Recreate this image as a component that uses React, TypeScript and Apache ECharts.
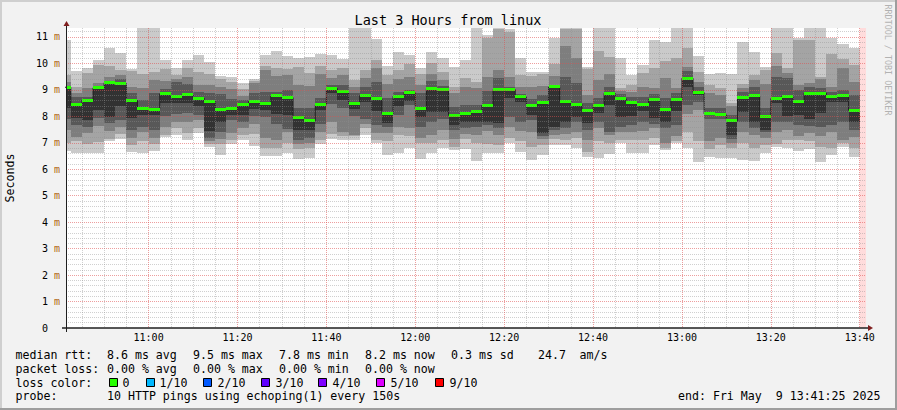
import React, { useEffect, useRef } from 'react';
import * as echarts from 'echarts';

const W = 897;
const H = 410;
const MONO = '"DejaVu Sans Mono", monospace';

// time axis in minutes of the day
const START_MIN = 10 * 60 + 41 + 25 / 60; // 10:41:25
const END_MIN = START_MIN + 180; // 13:41:25
const STEP_MIN = 2.5; // 150 s step
const FIRST_STEP_END = 10 * 60 + 42.5; // 10:42:30
const Y_MAX = 11.34;

// sorted ping rtt values per step (ms); medianRtt is ping 6 of 10
const ping1 = [6.7, 6.6, 6.6, 6.6, 7.08, 7.15, 6.67, 6.6, 6.69, 7.23, 7.3, 7.11, 7.37, 6.86, 6.55, 6.96, 7.11, 6.88, 6.52, 6.52, 6.63, 6.39, 6.44, 6.94, 7.15, 7.11, 7.11, 7.3, 6.98, 6.54, 6.6, 6.82, 6.39, 6.6, 6.79, 6.72, 6.77, 6.31, 6.6, 6.6, 6.98, 6.67, 6.35, 6.54, 6.92, 6.92, 6.82, 6.48, 6.44, 6.57, 6.98, 6.6, 6.6, 6.92, 6.73, 6.98, 6.82, 6.26, 6.48, 6.42, 6.44, 6.35, 6.31, 6.6, 6.86, 6.79, 6.69, 6.77, 6.29, 6.54, 6.86, 6.48];
const ping2 = [7.0, 7.05, 6.95, 7.04, 7.15, 7.35, 6.9, 7.05, 6.95, 7.3, 7.55, 7.36, 7.55, 6.95, 6.95, 7.1, 7.3, 7.35, 6.8, 6.8, 6.98, 6.75, 6.8, 7.1, 7.35, 7.25, 7.25, 7.55, 7.1, 7.05, 7.3, 7.26, 6.98, 6.98, 7.1, 6.85, 7.15, 6.98, 6.95, 6.9, 7.2, 7.05, 6.86, 6.9, 7.15, 7.1, 7.17, 6.67, 7.05, 7.0, 7.11, 7.11, 7.1, 7.17, 6.8, 7.05, 7.42, 7.05, 6.77, 6.9, 6.8, 6.98, 6.8, 6.92, 6.94, 7.11, 7.1, 7.05, 6.86, 6.79, 7.0, 6.8];
const ping3 = [7.5, 7.23, 7.37, 7.65, 7.45, 7.6, 7.2, 7.4, 7.2, 7.61, 7.8, 7.8, 7.86, 7.05, 7.15, 7.37, 7.55, 7.7, 7.17, 7.11, 7.4, 6.95, 7.0, 7.4, 7.8, 7.42, 7.3, 7.7, 7.36, 7.36, 7.61, 7.55, 7.2, 7.3, 7.49, 7.15, 7.35, 7.3, 7.45, 7.3, 7.61, 7.45, 7.42, 7.15, 7.3, 7.35, 7.42, 7.11, 7.55, 7.3, 7.42, 7.42, 7.45, 7.55, 7.0, 7.25, 8.1, 8.24, 7.05, 7.2, 7.0, 7.42, 7.3, 7.2, 7.42, 7.49, 7.25, 7.36, 7.25, 7.42, 7.11, 7.23];
const ping4 = [7.9, 7.67, 7.6, 7.95, 7.75, 7.85, 7.5, 7.6, 7.5, 8.0, 8.1, 8.12, 8.05, 7.2, 7.4, 7.85, 7.8, 8.0, 7.99, 7.7, 7.52, 7.11, 7.2, 7.73, 8.47, 8.3, 8.0, 7.89, 7.67, 7.6, 8.05, 8.43, 7.6, 7.8, 7.9, 7.5, 7.55, 7.6, 7.67, 7.55, 7.99, 7.8, 7.85, 7.25, 7.5, 7.55, 7.8, 7.48, 7.8, 7.42, 7.61, 7.67, 7.8, 7.7, 7.55, 7.67, 8.43, 8.56, 7.9, 7.9, 7.15, 7.8, 7.55, 7.42, 7.8, 7.8, 7.67, 7.65, 7.61, 7.67, 7.8, 7.5];
const ping5 = [8.3, 7.95, 7.86, 8.24, 7.99, 8.4, 7.95, 8.05, 8.05, 8.5, 8.5, 8.5, 8.41, 7.45, 7.8, 8.05, 8.05, 8.28, 8.24, 8.08, 8.05, 7.49, 7.49, 8.25, 8.87, 8.62, 8.27, 8.55, 8.2, 7.74, 8.41, 8.58, 7.99, 8.15, 8.18, 7.67, 7.78, 7.8, 7.8, 7.74, 8.68, 8.53, 8.05, 7.36, 7.61, 7.8, 7.99, 7.74, 8.12, 8.43, 7.99, 8.03, 8.2, 7.92, 7.8, 8.2, 9.12, 8.81, 8.04, 8.0, 7.3, 8.18, 7.8, 7.49, 8.49, 8.03, 8.05, 7.9, 8.14, 8.53, 8.53, 7.8];
const medianRtt = [9.1, 8.46, 8.61, 9.08, 9.27, 9.24, 8.6, 8.29, 8.27, 8.85, 8.76, 8.82, 8.69, 8.56, 8.27, 8.29, 8.46, 8.56, 8.5, 8.77, 8.71, 7.95, 7.83, 8.43, 9.05, 8.95, 8.49, 8.78, 8.66, 8.1, 8.76, 8.91, 8.28, 9.04, 9.02, 8.04, 8.09, 8.2, 8.42, 9.01, 9.01, 8.75, 8.42, 8.54, 9.11, 8.58, 8.46, 8.24, 8.41, 8.87, 8.66, 8.53, 8.43, 8.64, 8.27, 8.62, 9.44, 8.91, 8.09, 8.08, 7.83, 8.72, 8.78, 7.98, 8.67, 8.76, 8.57, 8.88, 8.88, 8.76, 8.77, 8.23];
const ping7 = [9.15, 8.75, 8.75, 9.12, 9.35, 9.4, 8.87, 8.62, 8.88, 9.05, 9.3, 9.21, 8.93, 8.87, 8.85, 8.66, 8.6, 8.9, 8.93, 8.93, 9.0, 8.3, 8.3, 8.7, 9.2, 9.2, 8.87, 9.12, 9.31, 8.71, 8.93, 9.0, 8.87, 9.34, 9.15, 8.35, 8.43, 8.43, 8.96, 9.44, 9.1, 8.85, 8.65, 8.8, 9.2, 9.5, 9.25, 8.5, 8.68, 9.1, 8.85, 8.75, 8.75, 8.85, 8.7, 8.87, 9.72, 9.12, 8.3, 8.3, 8.05, 8.93, 9.12, 8.3, 9.5, 9.44, 9.0, 9.12, 9.06, 8.93, 9.0, 8.8];
const ping8 = [9.3, 8.87, 9.06, 9.25, 9.5, 9.55, 9.1, 9.07, 9.38, 9.34, 9.4, 9.5, 9.19, 9.2, 9.1, 9.05, 8.77, 9.25, 9.75, 9.53, 9.56, 9.19, 9.16, 9.59, 9.44, 9.56, 9.12, 9.44, 9.82, 9.21, 9.4, 9.5, 9.19, 9.59, 9.38, 8.87, 9.1, 9.06, 9.5, 9.75, 9.5, 9.12, 9.1, 9.15, 9.53, 10.66, 10.22, 8.8, 9.38, 9.59, 8.95, 8.93, 9.12, 9.09, 9.44, 9.06, 9.88, 9.31, 8.87, 8.8, 8.4, 9.06, 9.38, 9.21, 9.9, 9.63, 9.19, 9.25, 9.4, 9.12, 9.82, 9.3];
const ping9 = [9.55, 9.11, 9.65, 9.94, 9.9, 9.75, 9.7, 9.6, 9.69, 9.79, 9.56, 9.84, 9.69, 9.59, 9.4, 9.31, 9.05, 9.35, 9.92, 9.84, 9.8, 9.85, 9.65, 9.9, 9.75, 9.82, 9.38, 9.75, 10.13, 9.56, 9.75, 9.97, 9.59, 10.0, 9.69, 9.12, 9.44, 9.3, 10.95, 11.3, 11.2, 9.56, 9.53, 9.59, 9.97, 11.3, 11.3, 9.78, 10.47, 10.26, 9.06, 9.19, 9.65, 9.82, 10.1, 10.19, 10.57, 9.69, 9.19, 9.06, 8.5, 9.21, 9.56, 9.75, 10.38, 9.84, 10.9, 10.89, 9.5, 10.35, 10.17, 9.94];
const ping10 = [10.9, 9.73, 9.82, 10.13, 10.6, 10.38, 9.79, 11.4, 11.4, 10.13, 9.82, 10.13, 10.32, 10.05, 9.53, 9.5, 9.25, 9.41, 10.32, 10.47, 10.28, 10.19, 10.26, 10.36, 10.32, 10.16, 11.4, 11.4, 10.92, 9.9, 10.42, 10.32, 9.84, 10.42, 10.19, 9.88, 10.13, 11.4, 11.08, 11.4, 11.3, 10.19, 9.69, 9.69, 10.97, 11.4, 11.4, 9.88, 11.4, 11.4, 10.22, 9.56, 9.94, 10.89, 10.82, 11.4, 11.4, 10.28, 9.59, 9.65, 9.59, 10.8, 10.45, 9.88, 11.4, 11.4, 10.97, 11.4, 11.4, 10.97, 10.72, 10.6];

// legend contents
const rttStats = ['8.6 ms avg', '9.5 ms max', '7.8 ms min', '8.2 ms now', '0.3 ms sd', '24.7'];
const lossStats = ['0.00 % avg', '0.00 % max', '0.00 % min', '0.00 % now'];
const lossLabels = ['0', '1/10', '2/10', '3/10', '4/10', '5/10', '9/10'];
const lossColors = ['#26ff00', '#00b8ff', '#0059ff', '#5e00ff', '#7e00ff', '#dd00ff', '#ff0000'];

const smokeColors = ['#cacaca', '#a4a4a4', '#7e7e7e', '#585858', '#323232'];

const stepEnds = medianRtt.map((_, i) => FIRST_STEP_END + i * STEP_MIN);
const smokeData = stepEnds.map((t, i) => [t, ping1[i], ping2[i], ping3[i], ping4[i], ping5[i], medianRtt[i], ping7[i], ping8[i], ping9[i], ping10[i]]);
const medianData = stepEnds.map((t, i) => [t, medianRtt[i]]);
const medianStepLine = stepEnds.map((t, i) => [t - STEP_MIN, medianRtt[i]]).concat([[stepEnds[stepEnds.length - 1], medianRtt[medianRtt.length - 1]]]);

function clip(r: any, cs: any) {
  return echarts.graphic.clipRectByRect(r, { x: cs.x, y: cs.y, width: cs.width, height: cs.height });
}

function renderSmoke(params: any, api: any) {
  const tEnd = api.value(0);
  const tStart = tEnd - STEP_MIN;
  const cs = params.coordSys;
  const children: any[] = [];
  for (let b = 0; b < 5; b++) {
    const lo = api.value(1 + b);
    const hi = api.value(10 - b);
    const a = api.coord([tStart, hi]);
    const c = api.coord([tEnd, lo]);
    const x0 = Math.round(a[0]);
    const x1 = Math.round(c[0]);
    const y0 = Math.round(a[1]);
    const y1 = Math.round(c[1]);
    const r = clip({ x: x0, y: y0, width: x1 - x0, height: y1 - y0 }, cs);
    if (r) children.push({ type: 'rect', shape: r, style: { fill: smokeColors[b] } });
  }
  return { type: 'group', children };
}

function renderMedian(params: any, api: any) {
  const tEnd = api.value(0);
  const med = api.value(1);
  const a = api.coord([tEnd - STEP_MIN, med]);
  const c = api.coord([tEnd, med]);
  const x0 = Math.round(a[0]);
  const x1 = Math.round(c[0]);
  const r = clip({ x: x0, y: Math.round(a[1] - 1.5), width: x1 - x0, height: 3 }, params.coordSys);
  if (!r) return null;
  return { type: 'rect', shape: r, style: { fill: lossColors[0] } };
}

function fmtTime(v: number) {
  const r = Math.round(v);
  if (Math.abs(v - r) > 1e-6 || r % 20 !== 0) return '';
  const h = Math.floor(r / 60);
  const m = r % 60;
  return `${h}:${String(m).padStart(2, '0')}`;
}

function fmtY(v: number) {
  if (Math.abs(v - Math.round(v)) > 1e-6) return '';
  const n = Math.round(v);
  if (n === 0) return '{n|0 }{z|m}';
  return `{n|${n} }{u|m}`;
}

const LEG = `11.6px ${MONO}`;
function txt(text: string, x: number, y: number, extra: any = {}) {
  return { type: 'text', x, y, silent: true, style: { text, font: LEG, fill: '#000', textAlign: 'left', textVerticalAlign: 'middle', ...extra } };
}

const rttX = [107, 193, 279, 365, 451, 538];
const lossX = [107, 193, 279, 365];
const boxX = [109, 146, 203, 261, 318, 376, 435];
const boxLabelX = [123, 160, 218, 276, 333, 391, 450];

const L1 = 354.5;
const L2 = 368.5;
const L3 = 382.5;
const L4 = 396.3;

const MINOR_GRID = 'rgba(143,143,143,0.42)';
const MAJOR_GRID = 'rgba(222,79,79,0.55)';

const graphics: any[] = [
  { type: 'rect', silent: true, shape: { x: 0, y: 0, width: W, height: 2 }, style: { fill: '#cfcfcf' } },
  { type: 'rect', silent: true, shape: { x: 0, y: 0, width: 2, height: H }, style: { fill: '#cfcfcf' } },
  { type: 'rect', silent: true, shape: { x: 0, y: H - 2, width: W, height: 2 }, style: { fill: '#9e9e9e' } },
  { type: 'rect', silent: true, shape: { x: W - 2, y: 0, width: 2, height: H }, style: { fill: '#9e9e9e' } },
  // axes
  { type: 'line', silent: true, z: 20, shape: { x1: 62, y1: 328, x2: 868, y2: 328 }, style: { stroke: '#1f1f1f', lineWidth: 1.5 } },
  { type: 'line', silent: true, z: 20, shape: { x1: 66.5, y1: 332, x2: 66.5, y2: 26 }, style: { stroke: '#1f1f1f', lineWidth: 1 } },
  { type: 'polygon', silent: true, z: 20, shape: { points: [[868, 325], [868, 331], [873, 328]] }, style: { fill: '#801f1f' } },
  { type: 'polygon', silent: true, z: 20, shape: { points: [[63.5, 26], [69.5, 26], [66.5, 21]] }, style: { fill: '#801f1f' } },
  // title
  { type: 'text', x: 448, y: 19.5, silent: true, style: { text: 'Last 3 Hours from linux', font: `13.5px ${MONO}`, fill: '#000', textAlign: 'center', textVerticalAlign: 'middle' } },
  // watermark
  { type: 'text', x: 888, y: 60, rotation: -Math.PI / 2, silent: true, style: { text: 'RRDTOOL / TOBI OETIKER', font: `8.4px ${MONO}`, fill: '#b2b2b2', textAlign: 'center', textVerticalAlign: 'middle' } },
  // legend line 1
  txt('median rtt:', 15.5, L1),
  ...rttStats.map((s, i) => txt(s, rttX[i], L1)),
  txt('am/s', 579.5, L1),
  // legend line 2
  txt('packet loss:', 15.5, L2),
  ...lossStats.map((s, i) => txt(s, lossX[i], L2)),
  // legend line 3
  txt('loss color:', 15.5, L3),
  ...lossColors.map((c, i) => ({ type: 'rect', silent: true, shape: { x: boxX[i] + 0.5, y: 378.5, width: 8, height: 8 }, style: { fill: c, stroke: '#000', lineWidth: 1 } })),
  ...lossLabels.map((s, i) => txt(s, boxLabelX[i] - 0.5, L3)),
  // legend line 4
  txt('probe:', 15.5, L4),
  txt('10 HTTP pings using echoping(1) every 150s', 107, L4),
  txt('end: Fri May  9 13:41:25 2025', 678, L4),
];

const option: any = {
  animation: false,
  backgroundColor: '#f2f2f2',
  grid: {
    left: 66, top: 28, width: 800, height: 300,
    show: true, backgroundColor: '#ffffff', borderWidth: 0,
    containLabel: false, outerBoundsMode: 'none',
  },
  xAxis: {
    type: 'value',
    min: START_MIN,
    max: END_MIN,
    splitNumber: 9,
    z: 10,
    axisLine: { show: false },
    axisTick: { show: false },
    minorTick: { show: false, splitNumber: 4 },
    axisLabel: { margin: 4, color: '#000', fontFamily: MONO, fontSize: 10, formatter: fmtTime },
    splitLine: { show: true, showMinLine: false, showMaxLine: false, lineStyle: { color: MAJOR_GRID, type: [1, 1], width: 1 } },
    minorSplitLine: { show: true, lineStyle: { color: MINOR_GRID, type: [1, 1], width: 1 } },
  },
  yAxis: {
    type: 'value',
    min: 0,
    max: Y_MAX,
    interval: 1,
    z: 10,
    name: 'Seconds',
    nameLocation: 'middle',
    nameRotate: 90,
    nameGap: 50,
    nameTextStyle: { fontFamily: MONO, fontSize: 11.6, color: '#000' },
    axisLine: { show: false },
    axisTick: { show: false },
    minorTick: { show: false, splitNumber: 5 },
    axisLabel: {
      margin: 6,
      fontFamily: MONO,
      fontSize: 10,
      formatter: fmtY,
      rich: {
        n: { color: '#000', fontFamily: MONO, fontSize: 10 },
        u: { color: '#b0650f', fontFamily: MONO, fontSize: 10 },
        z: { color: 'rgba(0,0,0,0)', fontFamily: MONO, fontSize: 10 },
      },
    },
    splitLine: { show: true, showMinLine: false, showMaxLine: false, lineStyle: { color: MAJOR_GRID, type: [1, 1], width: 1 } },
    minorSplitLine: { show: true, lineStyle: { color: MINOR_GRID, type: [1, 1], width: 1 } },
  },
  series: [
    {
      type: 'custom',
      name: 'smoke',
      renderItem: renderSmoke,
      data: smokeData,
      encode: { x: 0, y: 6 },
      z: 2,
      silent: true,
    },
    {
      type: 'line',
      name: 'median',
      data: medianStepLine,
      step: 'end',
      symbol: 'none',
      lineStyle: { color: '#202020', width: 1 },
      z: 3,
      silent: true,
      markArea: {
        silent: true,
        itemStyle: { color: '#ffdcdc' },
        data: [[{ xAxis: stepEnds[stepEnds.length - 1] }, { xAxis: END_MIN }]],
      },
    },
    {
      type: 'custom',
      name: 'median loss 0',
      renderItem: renderMedian,
      data: medianData,
      encode: { x: 0, y: 1 },
      z: 4,
      silent: true,
    },
  ],
  graphic: graphics,
};

export default function App() {
  const ref = useRef<HTMLDivElement>(null);
  useEffect(() => {
    document.body.style.margin = '0';
    const chart = echarts.init(ref.current as HTMLDivElement, undefined, { renderer: 'svg', width: W, height: H });
    chart.setOption(option);
    return () => chart.dispose();
  }, []);
  return <div ref={ref} style={{ position: 'fixed', left: 0, top: 0, width: W, height: H }} />;
}
